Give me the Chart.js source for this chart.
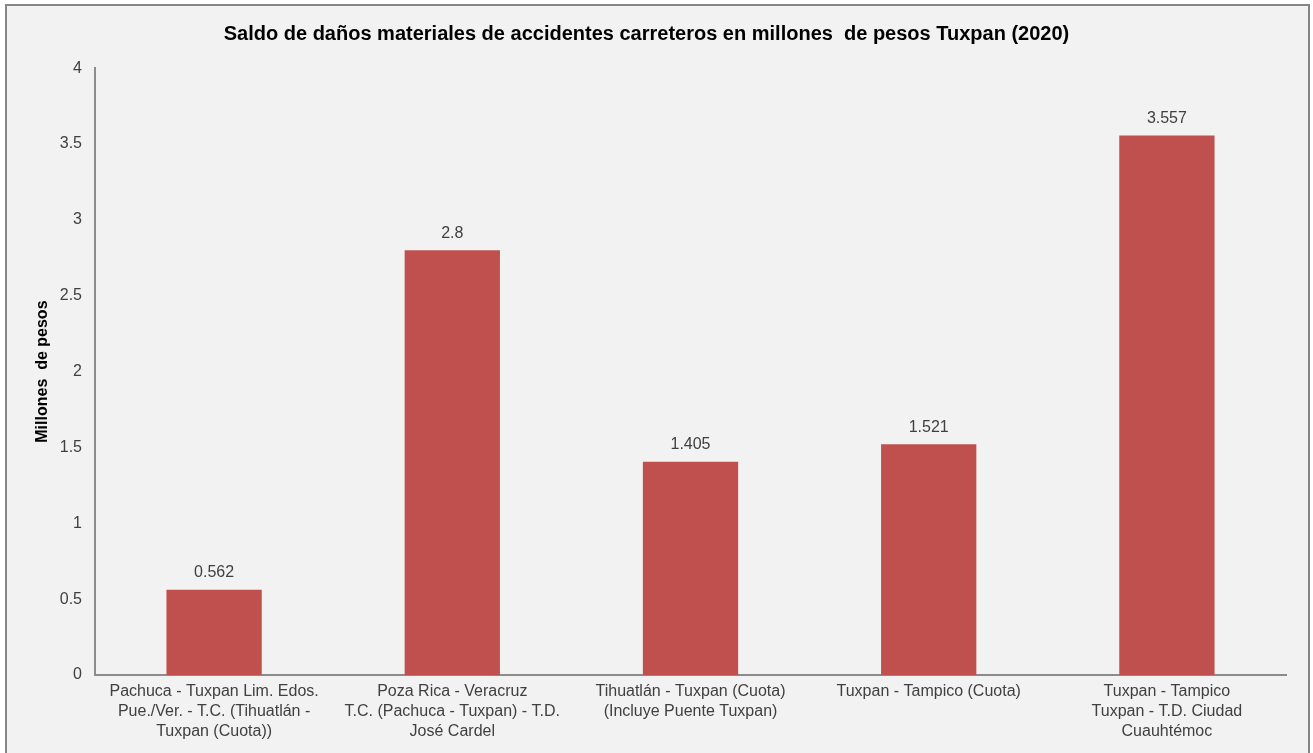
<!DOCTYPE html>
<html>
<head>
<meta charset="utf-8">
<script src="https://cdn.jsdelivr.net/npm/chart.js@4.4.1/dist/chart.umd.min.js"></script>
<style>
    body { margin: 0; background: #ffffff; }
    #box {
        position: absolute; left: 5px; top: 4px;
        width: 1301px; height: 760px;
        border: 2px solid #868686;
        background: #f2f2f2;
        overflow: hidden;
    }
    #chart { display: block; }
</style>
</head>
<body>
<div id="box"><canvas id="chart" width="1301" height="747"></canvas></div>
<script>
const categories = [
    ["Pachuca - Tuxpan Lim. Edos.", "Pue./Ver. - T.C. (Tihuatlán -", "Tuxpan (Cuota))"],
    ["Poza Rica - Veracruz", "T.C. (Pachuca - Tuxpan) - T.D.", "José Cardel"],
    ["Tihuatlán - Tuxpan (Cuota)", "(Incluye Puente Tuxpan)"],
    ["Tuxpan - Tampico (Cuota)"],
    ["Tuxpan - Tampico", "Tuxpan - T.D. Ciudad", "Cuauhtémoc"]
];
const damages = [0.562, 2.8, 1.405, 1.521, 3.557];
const yTicks = [0, 0.5, 1, 1.5, 2, 2.5, 3, 3.5, 4];

const FONT = "'Liberation Sans', Arial, sans-serif";

// value labels above each bar
const barLabels = {
    id: "barLabels",
    afterDatasetsDraw(c) {
        const ctx = c.ctx;
        const meta = c.getDatasetMeta(0);
        ctx.save();
        ctx.font = "16px " + FONT;
        ctx.fillStyle = "#404040";
        ctx.textAlign = "center";
        ctx.textBaseline = "middle";
        meta.data.forEach((bar, i) => {
            ctx.fillText(String(damages[i]), bar.x, bar.y - 17);
        });
        ctx.restore();
    }
};

const ctx = document.getElementById("chart").getContext("2d");

const chart = new Chart(ctx, {
    type: "bar",
    data: {
        labels: categories,
        datasets: [{
            label: "Millones de pesos",
            data: damages,
            backgroundColor: "#c0504d",
            categoryPercentage: 1,
            barPercentage: 0.4
        }]
    },
    options: {
        responsive: false,
        animation: false,
        layout: { padding: { left: 0, right: 22, top: 0, bottom: 0 } },
        plugins: {
            legend: { display: false },
            tooltip: { enabled: false },
            title: {
                display: true,
                text: "Saldo de daños materiales de accidentes carreteros en millones  de pesos Tuxpan (2020)",
                color: "#000000",
                font: { family: FONT, size: 20, weight: "bold" },
                padding: { top: 16, bottom: 22.2 }
            }
        },
        scales: {
            x: {
                grid: { display: false, drawTicks: false },
                border: { display: true, color: "#8c8c8c", width: 2 },
                ticks: {
                    color: "#404040",
                    font: { family: FONT, size: 16, lineHeight: 1.25 },
                    padding: 7,
                    maxRotation: 0,
                    autoSkip: false
                },
                afterFit(s) { s.height = 78; }
            },
            y: {
                min: 0,
                max: 4,
                afterBuildTicks(s) { s.ticks = yTicks.map(v => ({ value: v })); },
                grid: { display: false, drawTicks: false },
                border: { display: true, color: "#8c8c8c", width: 2 },
                ticks: {
                    color: "#404040",
                    font: { family: FONT, size: 16 },
                    padding: 13,
                    callback: v => String(v)
                },
                title: {
                    display: true,
                    text: "Millones  de pesos",
                    color: "#000000",
                    font: { family: FONT, size: 16, weight: "bold" },
                    padding: { top: 26.4, bottom: 0 }
                },
                afterFit(s) { s.width = 88; }
            }
        }
    },
    plugins: [barLabels]
});
</script>
</body>
</html>
